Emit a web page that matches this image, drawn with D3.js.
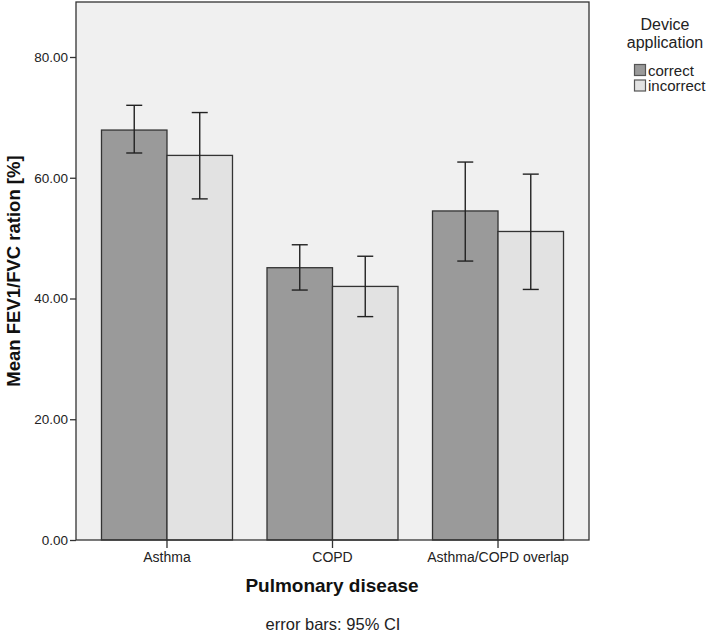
<!DOCTYPE html>
<html><head><meta charset="utf-8">
<script src="https://cdn.jsdelivr.net/npm/d3@7"></script>
<style>body{margin:0;background:#fff}svg{display:block;font-family:"Liberation Sans",Arial,sans-serif}</style>
</head><body><svg id="c" width="709" height="633"></svg>
<script>
const categories = ["Asthma", "COPD", "Asthma/COPD overlap"];
const groups = ["correct", "incorrect"];
const meanCorrect = [67.9, 45.1, 54.5];
const meanIncorrect = [63.7, 42.0, 51.1];
const ciLowCorrect = [64.1, 41.4, 46.2];
const ciHighCorrect = [72.0, 48.9, 62.6];
const ciLowIncorrect = [56.5, 37.0, 41.5];
const ciHighIncorrect = [70.8, 47.0, 60.6];
const yTicks = [0, 20, 40, 60, 80];
const colors = ["#9a9a9a", "#e2e2e2"];

const svg = d3.select("#c");
const L = 76, R = 589, T = 2, B = 540;
const x = d3.scaleBand().domain(categories).range([L, R]).paddingInner(0.2085).paddingOuter(0.154);
const xs = d3.scaleBand().domain(groups).range([0, x.bandwidth()]);
const y = d3.scaleLinear().domain([0, 80]).range([B, B - 80 * 6.0375]);

svg.append("rect").attr("x", L).attr("y", T).attr("width", R - L).attr("height", B - T)
  .attr("fill", "#f0f0f0").attr("stroke", "none");

const data = [];
categories.forEach((c, i) => {
  data.push({c, g: "correct", m: meanCorrect[i], lo: ciLowCorrect[i], hi: ciHighCorrect[i], col: colors[0]});
  data.push({c, g: "incorrect", m: meanIncorrect[i], lo: ciLowIncorrect[i], hi: ciHighIncorrect[i], col: colors[1]});
});

svg.selectAll("rect.bar").data(data).join("rect").attr("class", "bar")
  .attr("x", d => x(d.c) + xs(d.g)).attr("width", xs.bandwidth())
  .attr("y", d => y(d.m)).attr("height", d => y(0) - y(d.m))
  .attr("fill", d => d.col).attr("stroke", "#333").attr("stroke-width", 1.3);

const eb = svg.selectAll("g.eb").data(data).join("g").attr("class", "eb")
  .attr("stroke", "#222").attr("stroke-width", 1.4);
const cx = d => x(d.c) + xs(d.g) + xs.bandwidth() / 2;
eb.append("line").attr("x1", cx).attr("x2", cx).attr("y1", d => y(d.lo)).attr("y2", d => y(d.hi));
eb.append("line").attr("x1", d => cx(d) - 8).attr("x2", d => cx(d) + 8).attr("y1", d => y(d.lo)).attr("y2", d => y(d.lo));
eb.append("line").attr("x1", d => cx(d) - 8).attr("x2", d => cx(d) + 8).attr("y1", d => y(d.hi)).attr("y2", d => y(d.hi));

// frame
svg.append("rect").attr("x", L).attr("y", T).attr("width", R - L).attr("height", B - T)
  .attr("fill", "none").attr("stroke", "#333").attr("stroke-width", 1.3);

// y axis
const ya = svg.append("g").attr("transform", `translate(${L},0)`)
  .call(d3.axisLeft(y).tickValues(yTicks).tickFormat(d3.format(".2f")).tickSize(6).tickPadding(2));
ya.select(".domain").remove();
ya.selectAll("line").attr("stroke", "#333").attr("stroke-width", 1.3);
ya.selectAll("text").attr("font-size", 13.5).attr("fill", "#222").attr("font-family", "Liberation Sans, Arial, sans-serif");

// x axis
const xa = svg.append("g").attr("transform", `translate(0,${B})`)
  .call(d3.axisBottom(x).tickSize(8).tickPadding(4));
xa.select(".domain").remove();
xa.selectAll("line").attr("stroke", "#333").attr("stroke-width", 1.3);
xa.selectAll("text").attr("font-size", 14).attr("fill", "#222").attr("font-family", "Liberation Sans, Arial, sans-serif");

svg.append("text").attr("x", 332).attr("y", 592).attr("text-anchor", "middle")
  .attr("font-size", 19).attr("font-weight", "bold").attr("fill", "#111").text("Pulmonary disease");
svg.append("text").attr("x", 333).attr("y", 630).attr("text-anchor", "middle")
  .attr("font-size", 16.5).attr("fill", "#222").text("error bars: 95% CI");
svg.append("text").attr("transform", `translate(20,${(T + B) / 2}) rotate(-90)`).attr("text-anchor", "middle")
  .attr("font-size", 18.5).attr("font-weight", "bold").attr("fill", "#111").text("Mean FEV1/FVC ration [%]");

// legend
const lg = svg.append("g");
lg.append("text").attr("x", 665).attr("y", 30).attr("text-anchor", "middle").attr("font-size", 16).attr("fill", "#222").text("Device");
lg.append("text").attr("x", 665).attr("y", 48).attr("text-anchor", "middle").attr("font-size", 16).attr("fill", "#222").text("application");
groups.forEach((g, i) => {
  lg.append("rect").attr("x", 634.5).attr("y", 64.5 + i * 15.5).attr("width", 11).attr("height", 11)
    .attr("fill", colors[i]).attr("stroke", "#555").attr("stroke-width", 1.2);
  lg.append("text").attr("x", 648).attr("y", 75.5 + i * 15.5).attr("font-size", 15).attr("fill", "#222").text(g);
});
</script></body></html>
